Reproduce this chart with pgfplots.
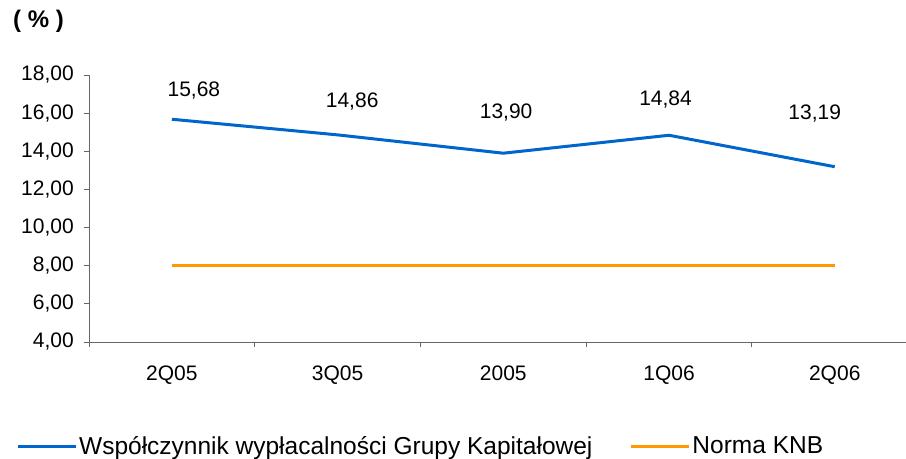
\documentclass[border=0pt]{standalone}
\usepackage{pgfplots}
\pgfplotsset{compat=1.18}
\usepackage{fontspec}
\setmainfont{Liberation Sans}
\definecolor{lineblue}{RGB}{0,102,204}
\definecolor{lineorange}{RGB}{255,153,0}
\begin{document}
\fontsize{21bp}{25bp}\selectfont
\begin{tikzpicture}
\path[use as bounding box] (-89bp,-117bp) rectangle (817bp,342bp);
\begin{axis}[
    scale only axis,
    width=817bp, height=267bp,
    xmin=-0.5, xmax=4.43,
    ymin=4, ymax=18,
    axis x line=bottom, axis y line=left,
    axis line style={-, draw=black!60, line width=0.9bp},
    xtick={0,...,4},
    xticklabels={2Q05,3Q05,2005,1Q06,2Q06},
    minor xtick={-0.5,0.5,1.5,2.5,3.5},
    major x tick style={draw=none},
    minor x tick style={draw=black!60, line width=0.9bp},
    y tick style={draw=black!60, line width=0.9bp},
    major tick length=5bp, minor tick length=5bp,
    tick align=outside,
    ytick={4,6,...,18},
    /pgf/number format/assume math mode=true,
    y tick label style={xshift=-3bp, /pgf/number format/.cd, fixed, fixed zerofill, precision=2, use comma, 1000 sep={}},
    x tick label style={yshift=-12bp},
    tick label style={font=\fontsize{21bp}{25bp}\selectfont},
    legend columns=2,
    legend style={draw=none, fill=none, inner sep=0pt,
        at={(axis description cs:-0.0894,-0.393)}, anchor=west,
        font=\fontsize{24.5bp}{29bp}\selectfont,
        /tikz/every even column/.append style={column sep=35bp}},
    legend image code/.code={\draw[#1] (0bp,0bp) -- (58bp,0bp);},
]
\addplot[lineblue, line width=3bp]
    coordinates {(0,15.68) (1,14.86) (2,13.90) (3,14.84) (4,13.19)};
\addlegendentry{Współczynnik wypłacalności Grupy Kapitałowej}
\addplot[lineorange, line width=3bp] coordinates {(0,8) (1,8) (2,8) (3,8) (4,8)};
\addlegendentry{Norma KNB}
% data labels, placed where the reference shows them
\addplot[draw=none, forget plot, point meta=explicit symbolic,
    nodes near coords,
    every node near coord/.append style={anchor=center, text=black, font=\fontsize{21bp}{25bp}\selectfont}]
    coordinates {(0.133,17.19) [15,68] (1.088,16.59) [14,86] (2.017,16.03) [13,90] (2.979,16.72) [14,84] (3.879,15.96) [13,19]};
\end{axis}
\node[anchor=north west, inner sep=0pt, font=\bfseries\fontsize{24bp}{28bp}\selectfont] at (-76bp,332bp) {( \% )};
\end{tikzpicture}
\end{document}
